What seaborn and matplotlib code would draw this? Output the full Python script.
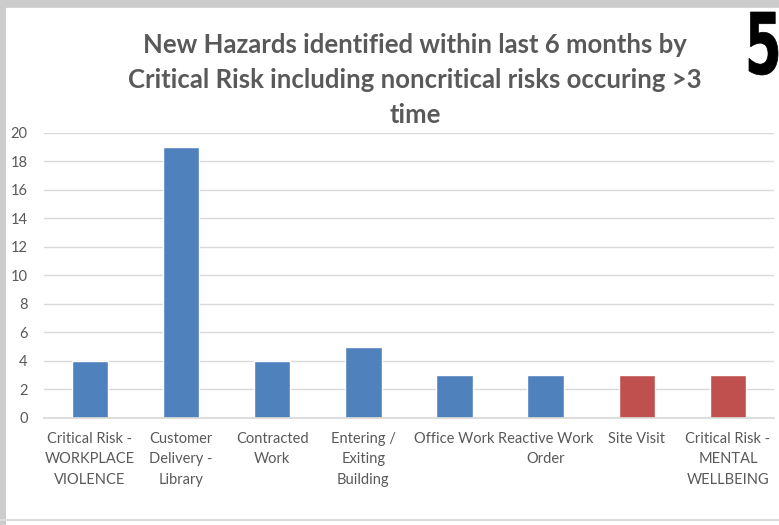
import numpy as np
import pandas as pd
import matplotlib
matplotlib.use("Agg")
import matplotlib.pyplot as plt
from matplotlib.lines import Line2D
from matplotlib.textpath import TextPath
from matplotlib.patches import PathPatch
from matplotlib.font_manager import FontProperties
from matplotlib.transforms import Affine2D
import seaborn as sns

sns.set_theme(style="white")
plt.rcParams['font.family'] = ['Lato', 'DejaVu Sans']

# -- Chart data -- #
categories = [
    "Critical Risk -\nWORKPLACE\nVIOLENCE",
    "Customer\nDelivery -\nLibrary",
    "Contracted\nWork",
    "Entering /\nExiting\nBuilding",
    "Office Work",
    "Reactive Work\nOrder",
    "Site Visit",
    "Critical Risk -\nMENTAL\nWELLBEING",
]
counts = [4, 19, 4, 5, 3, 3, 3, 3]
bar_colors = ["#4F81BD"] * 6 + ["#C0504D"] * 2

title = ("New Hazards identified within last 6 months by\n"
         "Critical Risk including noncritical risks occuring >3\ntime")

df = pd.DataFrame({"category": categories, "count": counts})

fig = plt.figure(figsize=(7.79, 5.25), dpi=100)
ax = fig.add_axes([0.057, 0.204, 0.936, 0.543])

sns.barplot(
    data=df, x="category", y="count", hue="category",
    palette=bar_colors, legend=False, width=0.4, ax=ax, saturation=1,
)

ax.set_ylim(0, 20)
ax.set_yticks(np.arange(0, 21, 2))
ax.yaxis.grid(True, color="#d9d9d9", linewidth=1)
ax.set_axisbelow(True)
for side in ["top", "right", "left"]:
    ax.spines[side].set_visible(False)
ax.spines["bottom"].set_color("#d9d9d9")
ax.set_xlabel("")
ax.set_ylabel("")
ax.tick_params(axis="y", labelsize=10.5, labelcolor="#595959", length=0, pad=12)
ax.tick_params(axis="x", labelsize=10.5, labelcolor="#595959", length=0, pad=10)
for lbl in ax.get_xticklabels():
    lbl.set_linespacing(1.6)

# Title
fig.text(0.533, 0.848, title, ha="center", va="center", fontsize=18.5,
         fontweight="bold", color="#595959", linespacing=1.55)

# Big page number, squeezed into a tall narrow box like the slide's condensed font
five = TextPath((0, 0), "5", size=100,
                prop=FontProperties(family="DejaVu Sans", weight="bold"))
ext = five.get_extents()
W, H = 779, 525
x0, x1, y0, y1 = 749 / W, 778 / W, 1 - 75 / H, 1 - 12 / H
squash = (Affine2D().translate(-ext.x0, -ext.y0)
          .scale((x1 - x0) / ext.width, (y1 - y0) / ext.height)
          .translate(x0, y0))
fig.add_artist(PathPatch(squash.transform_path(five), transform=fig.transFigure,
                         facecolor="black", edgecolor="black", lw=0.5))

# Screenshot border
fig.add_artist(Line2D([0, 1], [0.995, 0.995], transform=fig.transFigure, color="#cccccc", lw=7))
fig.add_artist(Line2D([0.003, 0.003], [0, 1], transform=fig.transFigure, color="#cccccc", lw=5))
fig.add_artist(Line2D([0, 1], [0.009, 0.009], transform=fig.transFigure, color="#dddddd", lw=1.5))

fig.savefig("out.png", dpi=100)
plt.close()
